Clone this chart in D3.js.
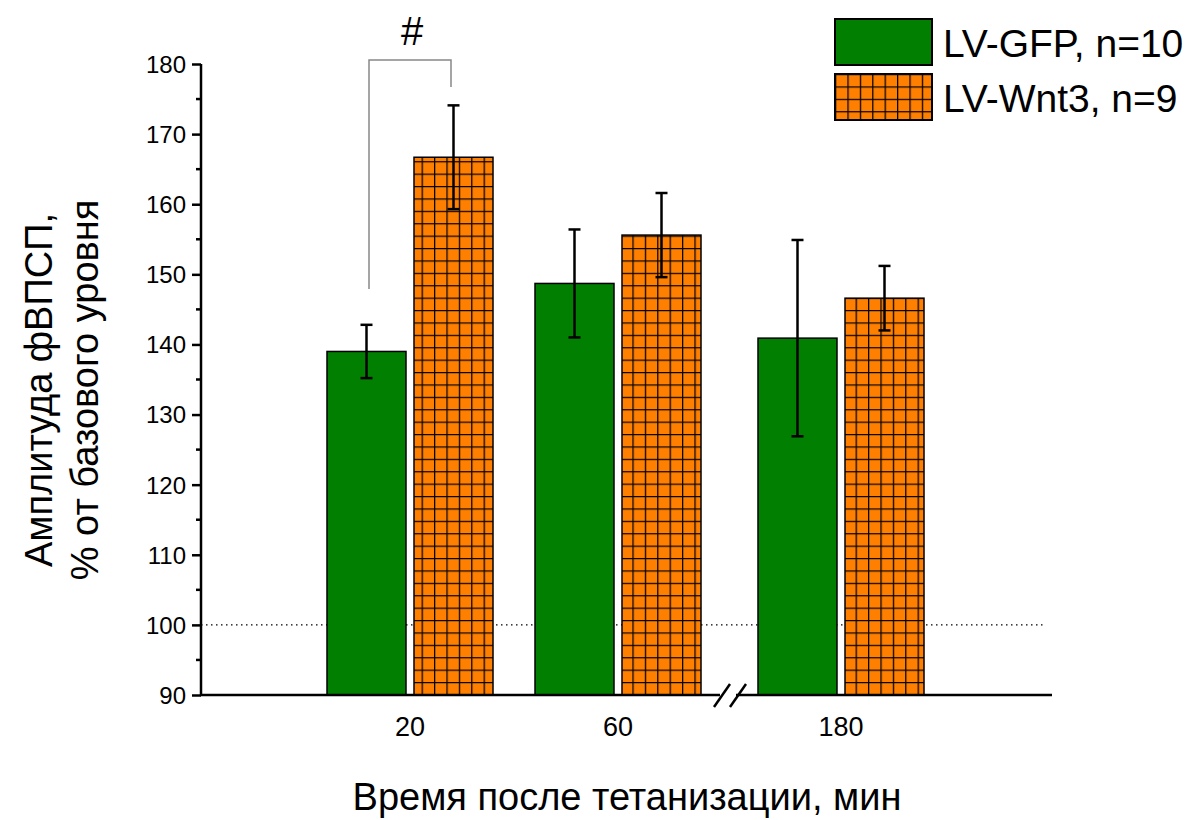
<!DOCTYPE html>
<html>
<head>
<meta charset="utf-8">
<script src="https://cdn.jsdelivr.net/npm/d3@7"></script>
<style>
  body { margin: 0; background: #fff; }
  svg { font-family: Arial, "Liberation Sans", sans-serif; }
</style>
</head>
<body>
<div id="chart"></div>
<script>
// Data
const categories = ["20", "60", "180"];
const seriesNames = ["LV-GFP, n=10", "LV-Wnt3, n=9"];
const gfpValues = [139.0, 148.7, 140.9];
const gfpErrors = [3.8, 7.7, 14.0];
const wnt3Values = [166.7, 155.6, 146.6];
const wnt3Errors = [7.4, 6.0, 4.6];
const yTicks = [90, 100, 110, 120, 130, 140, 150, 160, 170, 180];

const width = 1192, height = 820;

const svg = d3.select("#chart")
    .append("svg")
    .attr("width", width)
    .attr("height", height);

// Hatch pattern for the Wnt3 bars
const defs = svg.append("defs");
const pat = defs.append("pattern")
    .attr("id", "grid")
    .attr("patternUnits", "userSpaceOnUse")
    .attr("width", 12.4)
    .attr("height", 12.4);
pat.append("rect").attr("width", 12.4).attr("height", 12.4).attr("fill", "#ff8000");
pat.append("path")
    .attr("d", "M0,0.6H12.4M0.6,0V12.4")
    .attr("stroke", "#000")
    .attr("stroke-width", 1.3);

const colors = ["#007f00", "url(#grid)"];

const y = d3.scaleLinear().domain([90, 180]).range([695, 64]);

const x0 = d3.scaleBand().domain(categories).range([306, 930]);
const x1 = d3.scaleBand().domain(seriesNames).range([21, 187]).paddingInner(0.092);
const breakShift = 15; // extra gap after the axis break
const groupX = c => x0(c) + (c === "180" ? breakShift : 0);

// dotted baseline at 100%
svg.append("line")
    .attr("x1", 201).attr("x2", 1045)
    .attr("y1", y(100)).attr("y2", y(100))
    .attr("stroke", "#000")
    .attr("stroke-width", 1.2)
    .attr("stroke-dasharray", "1.5,3.5");

const rows = [];
categories.forEach((c, i) => {
    rows.push({cat: c, s: 0, v: gfpValues[i], e: gfpErrors[i]});
    rows.push({cat: c, s: 1, v: wnt3Values[i], e: wnt3Errors[i]});
});

// Bars
svg.selectAll("rect.bar")
    .data(rows)
    .enter()
    .append("rect")
    .attr("class", "bar")
    .attr("x", d => groupX(d.cat) + x1(seriesNames[d.s]))
    .attr("y", d => y(d.v))
    .attr("width", x1.bandwidth())
    .attr("height", d => y(90) - y(d.v))
    .attr("fill", d => colors[d.s])
    .attr("stroke", "#000")
    .attr("stroke-width", 1.5);

// Error bars
const eb = svg.selectAll("g.err")
    .data(rows)
    .enter()
    .append("g")
    .attr("class", "err")
    .attr("stroke", "#000")
    .attr("stroke-width", 2.5);
const cx = d => groupX(d.cat) + x1(seriesNames[d.s]) + x1.bandwidth() / 2;
eb.append("line")
    .attr("x1", cx).attr("x2", cx)
    .attr("y1", d => y(d.v + d.e)).attr("y2", d => y(d.v - d.e));
eb.append("line")
    .attr("x1", d => cx(d) - 6).attr("x2", d => cx(d) + 6)
    .attr("y1", d => y(d.v + d.e)).attr("y2", d => y(d.v + d.e));
eb.append("line")
    .attr("x1", d => cx(d) - 6).attr("x2", d => cx(d) + 6)
    .attr("y1", d => y(d.v - d.e)).attr("y2", d => y(d.v - d.e));

// Y axis
const yAxis = svg.append("g")
    .attr("transform", "translate(201,0)")
    .call(d3.axisLeft(y).tickValues(yTicks).tickSize(9).tickPadding(6));
yAxis.attr("font-size", 24).attr("font-family", null);
yAxis.select(".domain").attr("stroke-width", 2.5).attr("d", `M0,${y(180)}V${y(90)}`);
yAxis.selectAll(".tick line").attr("stroke-width", 2.5);
yAxis.selectAll(".tick text").attr("fill", "#000").attr("dy", "0.35em");
// minor ticks
svg.append("g").selectAll("line")
    .data(yTicks.slice(0, -1).map(t => t + 5))
    .enter()
    .append("line")
    .attr("x1", 196).attr("x2", 201)
    .attr("y1", d => y(d)).attr("y2", d => y(d))
    .attr("stroke", "#000")
    .attr("stroke-width", 2.5);

// X axis with break
const xBreak = 730;
svg.append("line")
    .attr("x1", 200).attr("x2", xBreak - 10)
    .attr("y1", 695).attr("y2", 695)
    .attr("stroke", "#000").attr("stroke-width", 2.5);
svg.append("line")
    .attr("x1", xBreak + 6).attr("x2", 1052)
    .attr("y1", 695).attr("y2", 695)
    .attr("stroke", "#000").attr("stroke-width", 2.5);
[-8, 8].forEach(dx => {
    svg.append("line")
        .attr("x1", xBreak + dx - 8).attr("y1", 707)
        .attr("x2", xBreak + dx + 8).attr("y2", 684)
        .attr("stroke", "#000").attr("stroke-width", 2.5);
});

// X tick labels
svg.append("g").selectAll("text")
    .data(categories)
    .enter()
    .append("text")
    .attr("x", c => groupX(c) + x0.bandwidth() / 2)
    .attr("y", 736)
    .attr("text-anchor", "middle")
    .attr("font-size", 27)
    .text(c => c);

// Axis titles
svg.append("text")
    .attr("x", 627).attr("y", 810)
    .attr("text-anchor", "middle")
    .attr("font-size", 38)
    .text("Время после тетанизации, мин");

const yt = svg.append("text")
    .attr("transform", "translate(0,390) rotate(-90)")
    .attr("text-anchor", "middle")
    .attr("font-size", 38);
yt.append("tspan").attr("x", 0).attr("y", 52).text("Амплитуда фВПСП,");
yt.append("tspan").attr("x", 0).attr("y", 98).text("% от базового уровня");

// Significance bracket
svg.append("path")
    .attr("d", `M369,289V60H451V87`)
    .attr("fill", "none")
    .attr("stroke", "#888")
    .attr("stroke-width", 1.5);
svg.append("text")
    .attr("x", 412).attr("y", 45)
    .attr("text-anchor", "middle")
    .attr("font-size", 40)
    .text("#");

// Legend
const legend = svg.append("g").selectAll("g")
    .data(seriesNames)
    .enter()
    .append("g")
    .attr("transform", (d, i) => `translate(835,${19 + i * 55})`);
legend.append("rect")
    .attr("width", 97).attr("height", 46)
    .attr("fill", (d, i) => colors[i])
    .attr("stroke", "#000")
    .attr("stroke-width", 2);
legend.append("text")
    .attr("x", 108).attr("y", 38)
    .attr("font-size", 39)
    .text(d => d);
</script>
</body>
</html>
